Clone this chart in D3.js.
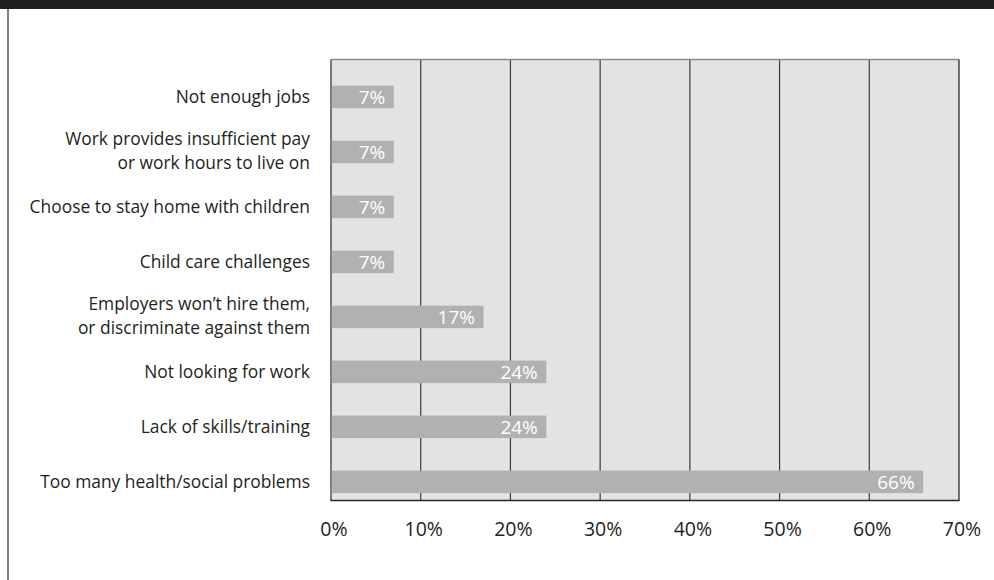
<!DOCTYPE html>
<html>
<head>
<meta charset="utf-8">
<script src="https://cdn.jsdelivr.net/npm/d3@7"></script>
<style>
  body { margin: 0; background: #fff; }
  svg { display: block; font-family: "Open Sans", Lato, sans-serif; }
</style>
</head>
<body>
<div id="chart"></div>
<script>
const width = 994;
const height = 580;

// categories top to bottom, each label split into lines
const categories = [
  ["Not enough jobs"],
  ["Work provides insufficient pay", "or work hours to live on"],
  ["Choose to stay home with children"],
  ["Child care challenges"],
  ["Employers won\u2019t hire them,", "or discriminate against them"],
  ["Not looking for work"],
  ["Lack of skills/training"],
  ["Too many health/social problems"]
];
const values = [7, 7, 7, 7, 17, 24, 24, 66];
const ticks = [0, 10, 20, 30, 40, 50, 60, 70];

const plot = { left: 331, right: 959, top: 59.5, bottom: 500.5 };

const svg = d3.select("#chart")
  .append("svg")
  .attr("width", width)
  .attr("height", height);

// header band and page frame
svg.append("rect")
  .attr("x", 0).attr("y", 0)
  .attr("width", width).attr("height", 9)
  .attr("fill", "#231f20");

svg.append("line")
  .attr("x1", 8).attr("x2", 8)
  .attr("y1", 9).attr("y2", height)
  .attr("stroke", "#555")
  .attr("stroke-width", 1.5);

let x = d3.scaleLinear()
  .domain([0, 70])
  .range([plot.left, plot.right]);

let y = d3.scaleBand()
  .domain(d3.range(categories.length))
  .range([plot.top, plot.bottom])
  .paddingInner(0.59)
  .paddingOuter(0.305)
  .align(0.78);

// plot background
svg.append("rect")
  .attr("x", plot.left)
  .attr("y", plot.top)
  .attr("width", plot.right - plot.left)
  .attr("height", plot.bottom - plot.top)
  .attr("fill", "#e2e3e5");

// vertical grid lines
svg.append("g")
  .selectAll("line")
  .data(ticks.slice(1, -1))
  .enter()
  .append("line")
  .attr("x1", (d) => x(d))
  .attr("x2", (d) => x(d))
  .attr("y1", plot.top)
  .attr("y2", plot.bottom)
  .attr("stroke", "#3a3a3a")
  .attr("stroke-width", 1.2);

// frame
svg.append("line")
  .attr("x1", plot.left).attr("x2", plot.right)
  .attr("y1", plot.top).attr("y2", plot.top)
  .attr("stroke", "#8a8a8a").attr("stroke-width", 1.6);
svg.append("line")
  .attr("x1", plot.right).attr("x2", plot.right)
  .attr("y1", plot.top).attr("y2", plot.bottom)
  .attr("stroke", "#2a2a2a").attr("stroke-width", 1.3);
svg.append("line")
  .attr("x1", plot.left).attr("x2", plot.left)
  .attr("y1", plot.top).attr("y2", plot.bottom)
  .attr("stroke", "#3a3a3a").attr("stroke-width", 1.3);
svg.append("line")
  .attr("x1", plot.left - 0.6).attr("x2", plot.right + 0.6)
  .attr("y1", plot.bottom).attr("y2", plot.bottom)
  .attr("stroke", "#2a2a2a").attr("stroke-width", 1.4);

// bars
svg.append("g")
  .selectAll("rect")
  .data(values)
  .enter()
  .append("rect")
  .attr("x", x(0) + 0.7)
  .attr("y", (d, i) => y(i))
  .attr("width", (d) => x(d) - x(0) - 0.7)
  .attr("height", y.bandwidth())
  .attr("fill", "#b1b1b1");

// value labels inside bars
svg.append("g")
  .selectAll("text")
  .data(values)
  .enter()
  .append("text")
  .attr("x", (d) => x(d) - 8.5)
  .attr("y", (d, i) => y(i) + y.bandwidth() / 2 + 7)
  .attr("text-anchor", "end")
  .attr("fill", "#fff")
  .attr("font-size", 19)
  .text((d) => d + "%");

// category labels
const lab = svg.append("g")
  .selectAll("text")
  .data(categories)
  .enter()
  .append("text")
  .attr("text-anchor", "end")
  .attr("fill", "#231f20")
  .attr("font-size", 17.4);

lab.each(function (lines, i) {
  const cy = y(i) + y.bandwidth() / 2;
  const lh = 24.5;
  const y0 = lines.length > 1 ? cy - 7 : cy + 6;
  d3.select(this)
    .selectAll("tspan")
    .data(lines)
    .enter()
    .append("tspan")
    .attr("x", 310)
    .attr("y", (d, k) => y0 + k * lh)
    .text((d) => d);
});

// x tick labels
svg.append("g")
  .selectAll("text")
  .data(ticks)
  .enter()
  .append("text")
  .attr("x", (d) => x(d) + 3)
  .attr("y", 536)
  .attr("text-anchor", "middle")
  .attr("fill", "#231f20")
  .attr("font-size", 19.5)
  .text((d) => d + "%");
</script>
</body>
</html>
